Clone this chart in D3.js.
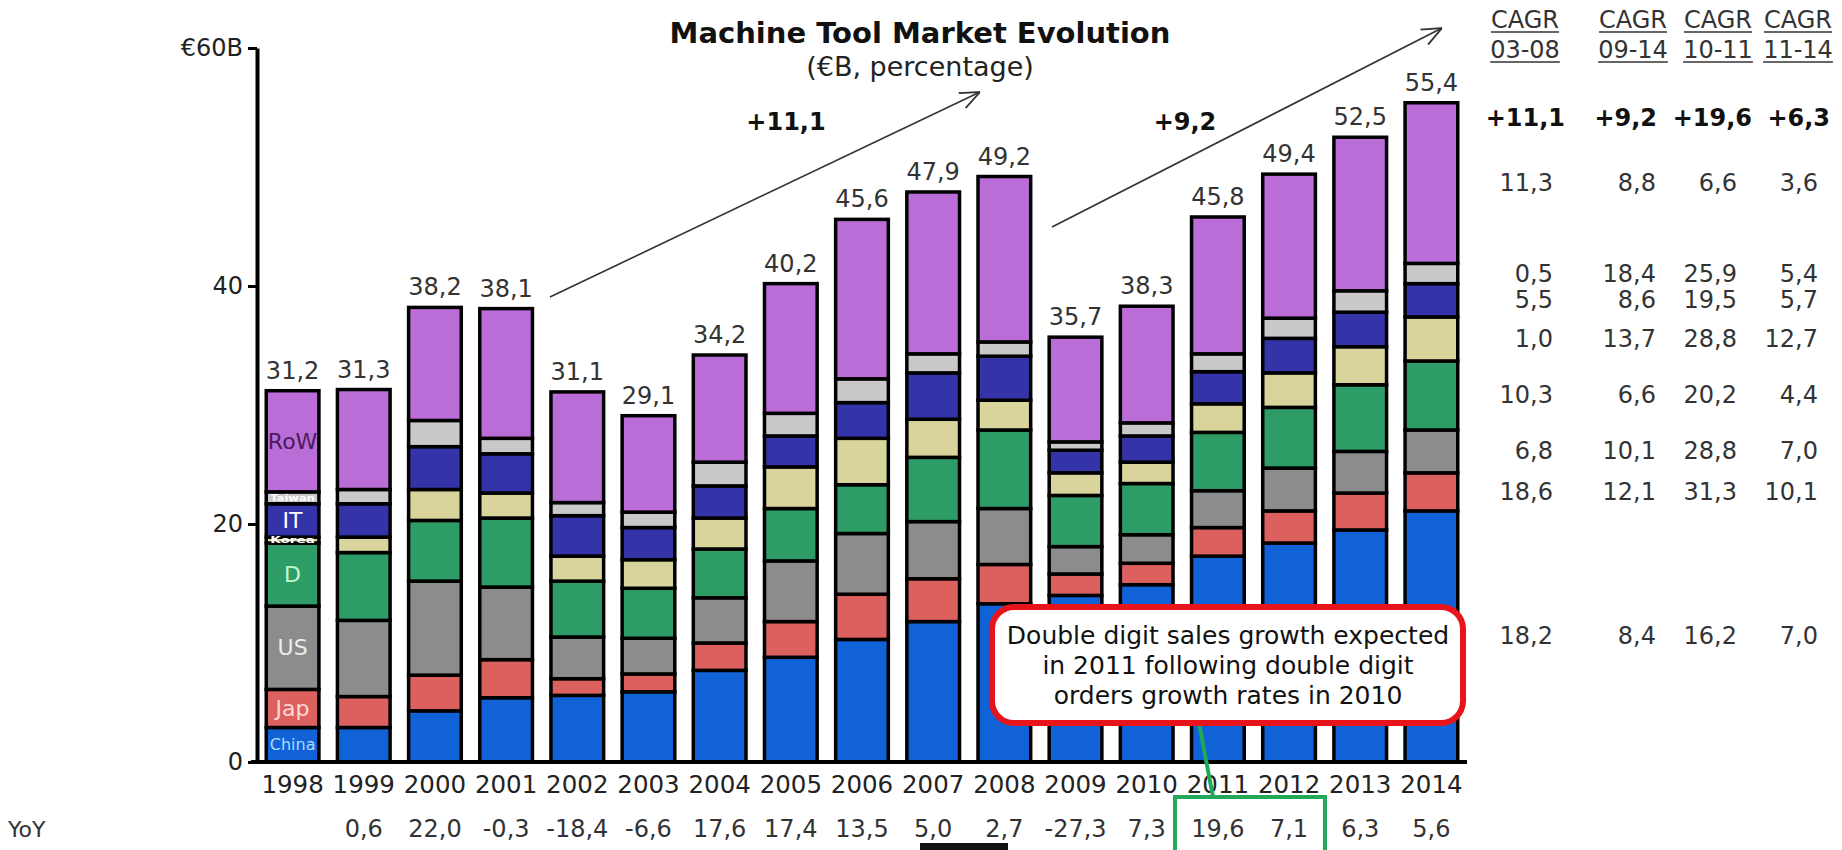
<!DOCTYPE html>
<html><head><meta charset="utf-8">
<script src="https://cdn.jsdelivr.net/npm/d3@7"></script>
<style>body{margin:0;background:#fff;overflow:hidden}svg{display:block}</style>
</head><body>
<svg id="chart" width="1842" height="850"></svg>
<script>
// ---------- data ----------
const years = ["1998","1999","2000","2001","2002","2003","2004","2005","2006","2007","2008","2009","2010","2011","2012","2013","2014"];
const regions = ["China","Jap","US","D","Korea","IT","Taiwan","RoW"];
const china  = [2.9,2.9,4.3,5.4,5.6,5.9,7.7,8.8,10.3,11.8,13.3,14.0,14.9,17.3,18.4,19.5,21.1];
const jap    = [3.2,2.6,3.0,3.2,1.4,1.5,2.3,3.0,3.8,3.6,3.3,1.8,1.8,2.4,2.7,3.1,3.2];
const us     = [7.0,6.4,7.9,6.1,3.5,3.0,3.8,5.1,5.1,4.8,4.7,2.3,2.4,3.1,3.6,3.5,3.6];
const de     = [5.3,5.7,5.1,5.8,4.7,4.2,4.1,4.4,4.1,5.4,6.6,4.3,4.3,4.9,5.1,5.6,5.8];
const korea  = [0.5,1.3,2.6,2.1,2.1,2.4,2.6,3.5,3.9,3.2,2.5,1.9,1.8,2.4,2.9,3.2,3.7];
const italy  = [2.8,2.8,3.6,3.3,3.4,2.7,2.7,2.6,3.0,3.9,3.7,1.9,2.2,2.7,2.9,2.9,2.8];
const taiwan = [1.0,1.2,2.2,1.3,1.1,1.3,2.0,1.9,2.0,1.6,1.2,0.7,1.1,1.5,1.7,1.8,1.7];
const rowW   = [8.5,8.4,9.5,10.9,9.3,8.1,9.0,10.9,13.4,13.6,13.9,8.8,9.8,11.5,12.1,12.9,13.5];
const totalLabels = ["31,2","31,3","38,2","38,1","31,1","29,1","34,2","40,2","45,6","47,9","49,2","35,7","38,3","45,8","49,4","52,5","55,4"];
const yoyLabels = ["","0,6","22,0","-0,3","-18,4","-6,6","17,6","17,4","13,5","5,0","2,7","-27,3","7,3","19,6","7,1","6,3","5,6"];
const yTicks = [0,20,40,60];
const yTickLabels = ["0","20","40","€60B"];
const segLabels = ["China","Jap","US","D","Korea","IT","Taiwan","RoW"];
const colors = ["#1162d6","#dc615e","#8c8c8c","#2d9c66","#d9d49b","#3434a8","#c9c9c9","#bb6dd7"];
const labelColors = ["#a9ddff","#ffd8d8","#ececec","#c8f7cf","#ffffff","#ffffff","#ffffff","#4a1a5c"];
// CAGR table
const cagrHeads = ["03-08","09-14","10-11","11-14"];
const cagrTotal  = ["+11,1","+9,2","+19,6","+6,3"];
const cagrChina  = ["18,2","8,4","16,2","7,0"];
const cagrJap    = ["18,6","12,1","31,3","10,1"];
const cagrUS     = ["6,8","10,1","28,8","7,0"];
const cagrD      = ["10,3","6,6","20,2","4,4"];
const cagrKorea  = ["1,0","13,7","28,8","12,7"];
const cagrIT     = ["5,5","8,6","19,5","5,7"];
const cagrTaiwan = ["0,5","18,4","25,9","5,4"];
const cagrRoW    = ["11,3","8,8","6,6","3,6"];
const arrowLabels = ["+11,1","+9,2"];
const calloutLines = ["Double digit sales growth expected","in 2011 following double digit","orders growth rates in 2010"];

// ---------- build ----------
const series = [china,jap,us,de,korea,italy,taiwan,rowW];
const table = years.map((yr,i)=>{const o={year:yr};regions.forEach((r,k)=>o[r]=series[k][i]);return o;});
const stacked = d3.stack().keys(regions)(table);
const cagrRows = [cagrChina,cagrJap,cagrUS,cagrD,cagrKorea,cagrIT,cagrTaiwan,cagrRoW];

const FONT = "DejaVu Sans, Verdana, sans-serif";
const svg = d3.select("#chart");
const x = d3.scaleBand().domain(years).range([257,1467]).paddingInner(0.26).paddingOuter(0.13);
const y = d3.scaleLinear().domain([0,60]).range([762,48]);
const bw = x.bandwidth();

// bars
const g = svg.append("g");
stacked.forEach((s,k)=>{
  g.selectAll(null).data(s).enter().append("rect")
    .attr("x",d=>x(d.data.year)).attr("width",bw)
    .attr("y",d=>y(d[1])).attr("height",d=>y(d[0])-y(d[1]))
    .attr("fill",colors[k]).attr("stroke","#000").attr("stroke-width",3.5);
});

// total labels
svg.append("g").selectAll("text").data(stacked[stacked.length-1]).enter().append("text")
  .attr("x",d=>x(d.data.year)+bw/2).attr("y",d=>y(d[1])-12)
  .attr("text-anchor","middle").attr("font-family",FONT).attr("font-size",24).attr("fill","#333")
  .text((d,i)=>totalLabels[i]);

// segment labels in first bar
const first = years[0];
stacked.forEach((s,k)=>{
  const d = s[0];
  const small = (segLabels[k]==="Korea"||segLabels[k]==="Taiwan");
  const fs = small?9:(segLabels[k]==="China"?16:22);
  const t = svg.append("text").attr("x",x(first)+bw/2).attr("y",y((d[0]+d[1])/2))
    .attr("text-anchor","middle").attr("dominant-baseline","central")
    .attr("font-family",FONT).attr("font-size",fs).attr("fill",labelColors[k]).text(segLabels[k]);
  if(small){t.attr("textLength",bw-8).attr("lengthAdjust","spacingAndGlyphs").attr("font-weight","bold");}
});

// y axis
const yAxis = d3.axisLeft(y).tickValues(yTicks).tickFormat((d,i)=>yTickLabels[i]).tickSize(9).tickSizeOuter(0).tickPadding(5);
const ya = svg.append("g").attr("transform","translate(257,0)").call(yAxis);
ya.select(".domain").attr("stroke","#000").attr("stroke-width",4);
ya.selectAll(".tick line").attr("stroke","#000").attr("stroke-width",3);
ya.selectAll("text").attr("font-family",FONT).attr("font-size",24).attr("fill","#222");

// x axis
const xAxis = d3.axisBottom(x).tickSize(0).tickSizeOuter(0).tickPadding(14);
const xa = svg.append("g").attr("transform","translate(0,762)").call(xAxis);
xa.select(".domain").attr("stroke","#000").attr("stroke-width",4).attr("d","M251,0H1467");
xa.selectAll("text").attr("font-family",FONT).attr("font-size",24.5).attr("fill","#222");

// YoY
svg.append("text").attr("x",8).attr("y",829).attr("dominant-baseline","central")
  .attr("font-family",FONT).attr("font-size",22).attr("fill","#333").text("YoY");
svg.append("g").selectAll("text").data(years).enter().append("text")
  .attr("x",d=>x(d)+bw/2).attr("y",829).attr("text-anchor","middle").attr("dominant-baseline","central")
  .attr("font-family",FONT).attr("font-size",24).attr("fill","#333").text((d,i)=>yoyLabels[i]);

// title
svg.append("text").attr("x",920).attr("y",43).attr("text-anchor","middle")
  .attr("font-family",FONT).attr("font-weight","bold").attr("font-size",29).attr("fill","#111")
  .text("Machine Tool Market Evolution");
svg.append("text").attr("x",920).attr("y",76).attr("text-anchor","middle")
  .attr("font-family",FONT).attr("font-size",27).attr("fill","#222")
  .text("(€B, percentage)");

// arrows
const defs = svg.append("defs");
defs.append("marker").attr("id","ah").attr("viewBox","0 0 10 10").attr("refX",10).attr("refY",5)
  .attr("markerWidth",20).attr("markerHeight",20).attr("markerUnits","userSpaceOnUse").attr("orient","auto")
  .append("path").attr("d","M0,0.8L10,5L0,9.2").attr("fill","none").attr("stroke","#333").attr("stroke-width",0.9);
const arrows = [[550,297,980,92],[1052,227,1442,28]];
svg.append("g").selectAll("line").data(arrows).enter().append("line")
  .attr("x1",d=>d[0]).attr("y1",d=>d[1]).attr("x2",d=>d[2]).attr("y2",d=>d[3])
  .attr("stroke","#333").attr("stroke-width",1.6).attr("marker-end","url(#ah)");
const arrowPos = [[786,130],[1185,130]];
svg.append("g").selectAll("text").data(arrowLabels).enter().append("text")
  .attr("x",(d,i)=>arrowPos[i][0]).attr("y",(d,i)=>arrowPos[i][1]).attr("text-anchor","middle")
  .attr("font-family",FONT).attr("font-weight","bold").attr("font-size",24).attr("fill","#111").text(d=>d);

// CAGR table
const colCenters = [1525,1633,1718,1798];
const colRight = [1553,1656,1737,1818];
const totRight = [1565,1657,1752,1830];
cagrHeads.forEach((h,i)=>{
  [["CAGR",28],[h,58]].forEach(([txt,yy])=>{
    const t = svg.append("text").attr("x",colCenters[i]).attr("y",yy).attr("text-anchor","middle")
      .attr("font-family",FONT).attr("font-size",24).attr("fill","#333").text(txt);
    const w = t.node().getComputedTextLength();
    svg.append("line").attr("x1",colCenters[i]-w/2).attr("x2",colCenters[i]+w/2)
      .attr("y1",yy+4).attr("y2",yy+4).attr("stroke","#333").attr("stroke-width",1.5);
  });
  svg.append("text").attr("x",totRight[i]).attr("y",118).attr("text-anchor","end").attr("dominant-baseline","central")
    .attr("font-family",FONT).attr("font-weight","bold").attr("font-size",24).attr("fill","#111").text(cagrTotal[i]);
});
const last = years.length-1;
cagrRows.forEach((row,k)=>{
  const d = stacked[k][last];
  const yy = y((d[0]+d[1])/2);
  row.forEach((v,i)=>{
    svg.append("text").attr("x",colRight[i]).attr("y",yy).attr("text-anchor","end").attr("dominant-baseline","central")
      .attr("font-family",FONT).attr("font-size",24).attr("fill","#333").text(v);
  });
});

// callout
svg.append("line").attr("x1",1199).attr("y1",723).attr("x2",1213).attr("y2",797)
  .attr("stroke","#22a85b").attr("stroke-width",4);
svg.append("rect").attr("x",1175).attr("y",797).attr("width",150).attr("height",70)
  .attr("fill","none").attr("stroke","#22a85b").attr("stroke-width",4);
svg.append("rect").attr("x",992).attr("y",607).attr("width",471).attr("height",116).attr("rx",22)
  .attr("fill","#fff").attr("stroke","#e8141b").attr("stroke-width",6);
svg.append("g").selectAll("text").data(calloutLines).enter().append("text")
  .attr("x",1228).attr("y",(d,i)=>635+i*30).attr("text-anchor","middle").attr("dominant-baseline","central")
  .attr("font-family",FONT).attr("font-size",25).attr("fill","#111").text(d=>d);
svg.append("rect").attr("x",920).attr("y",843).attr("width",88).attr("height",10).attr("fill","#111");
</script>
</body></html>
